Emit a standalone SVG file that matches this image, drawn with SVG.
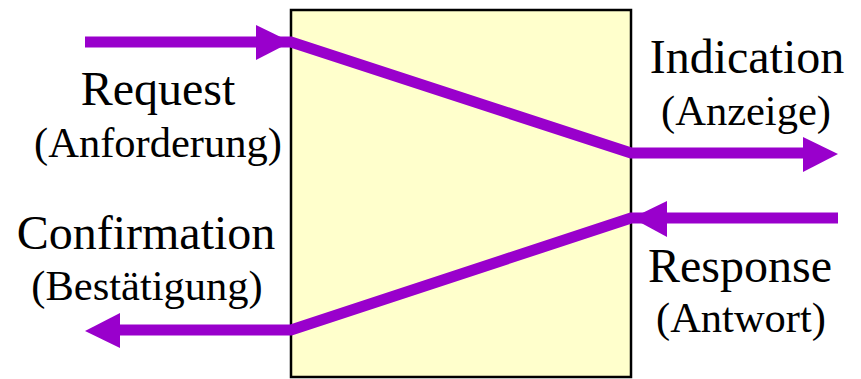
<svg xmlns="http://www.w3.org/2000/svg" width="861" height="379" viewBox="0 0 861 379">
<style>
.main{font-family:"Liberation Serif","Times New Roman",serif;font-size:48px;fill:#000;text-anchor:middle}
.sub{font-family:"Liberation Serif","Times New Roman",serif;font-size:42.5px;fill:#000;text-anchor:middle}
.flow{fill:none;stroke:#9900CC;stroke-width:11;stroke-linejoin:miter}
.head{fill:#9900CC}
</style>
<rect width="861" height="379" fill="#fff"/>
<g id="box">
<rect x="291" y="10" width="340" height="367" fill="#FFFFCC" stroke="#000" stroke-width="2.5"/>
</g>
<g id="connectors">
<polyline class="flow" points="85,42 258,42 291,42 631,153 805,153"/>
<polygon class="head" points="256,25 291,42 256,60"/>
<polygon class="head" points="803,137 838,154 803,172"/>
<polyline class="flow" points="838,218 665,218 631,218 291,330 118,330"/>
<polygon class="head" points="667,201 632,218 667,237"/>
<polygon class="head" points="120,313 85,331 120,348"/>
</g>
<g id="request">
<text class="main" x="158" y="105">Request</text>
<text class="sub" x="158" y="157">(Anforderung)</text>
</g>
<g id="indication">
<text class="main" x="747" y="73">Indication</text>
<text class="sub" x="746" y="125">(Anzeige)</text>
</g>
<g id="confirmation">
<text class="main" x="146" y="249">Confirmation</text>
<text class="sub" x="147" y="300">(Bestätigung)</text>
</g>
<g id="response">
<text class="main" x="740" y="282">Response</text>
<text class="sub" x="741" y="332">(Antwort)</text>
</g>
</svg>
